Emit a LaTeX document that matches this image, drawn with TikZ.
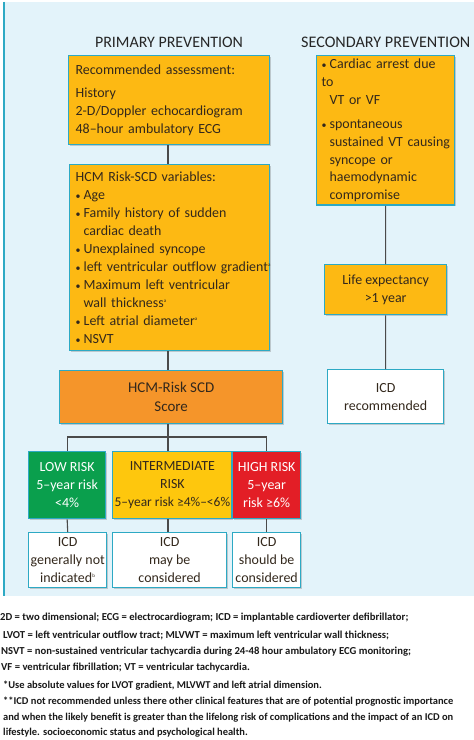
\documentclass[tikz,border=0pt]{standalone}
\usepackage{fontspec}
\setmainfont{Carlito}
\usetikzlibrary{shadows}
\definecolor{bg}{HTML}{E3F3FA}
\definecolor{edge}{HTML}{2DA9C4}
\definecolor{yel}{HTML}{FDB913}
\definecolor{yel2}{HTML}{FEC70D}
\definecolor{org}{HTML}{F5952A}
\definecolor{grn}{HTML}{0A9F4D}
\definecolor{rd}{HTML}{E31E26}
\definecolor{ink}{HTML}{33281C}
\definecolor{conn}{HTML}{4A4A4A}
\newcommand{\myb}{\makebox[8bp][l]{\fontsize{10}{10}\selectfont\textbullet}}
\newcommand{\myi}{\hspace*{8bp}}
\hyphenpenalty=10000
\exhyphenpenalty=10000
\begin{document}
\begin{tikzpicture}[x=1bp,y=-1bp,
  box/.style={draw=edge, line width=1.3bp, anchor=north west, inner xsep=6bp, inner ysep=3bp,
    font=\fontsize{14}{18}\selectfont, text=ink, align=center,
    drop shadow={shadow xshift=1.3bp, shadow yshift=-1.3bp, opacity=0.3, fill=black!60}},
  ybox/.style={box, fill=yel},
  wbox/.style={box, fill=white},
  conn/.style={draw=conn, line width=1.1bp},
  title/.style={font=\fontsize{16}{18}\selectfont, text=black!85},
  foot/.style={anchor=west, inner sep=0pt, font=\fontsize{10.7}{13}\selectfont\bfseries, text=black!90},
  foots/.style={foot, font=\fontsize{10.5}{12}\selectfont\bfseries}
]
\useasboundingbox (0,0) rectangle (474,740);
\fill[white] (0,0) rectangle (474,740);
\fill[bg] (3,2) rectangle (474,596);
\draw[edge, line width=1.5bp] (4,2) -- (4,596);

\node[title] (tp) at (169,42) {PRIMARY PREVENTION};
\node[title, anchor=west, inner sep=0pt, font=\fontsize{16.2}{18}\selectfont] (ts) at (301,42) {SECONDARY PREVENTION};

% primary
\node[ybox, minimum width=201bp, minimum height=89bp, text width=187bp, align=left, inner xsep=7bp] (b1) at (68,55)
  {Recommended assessment:\\[5bp]History\\2-D/Doppler echocardiogram\\48–hour ambulatory ECG};
\node[ybox, minimum width=200bp, minimum height=186bp, text width=188bp, align=left, inner xsep=6bp] (b2) at (69,164)
  {HCM Risk-SCD variables:\\
   \myb Age\\
   \myb Family history of sudden\\
   \myi cardiac death\\
   \myb Unexplained syncope\\
   \mbox{\myb left ventricular outflow gradient\textsuperscript{\tiny a}}\\
   \myb Maximum left ventricular\\
   \myi wall thickness\textsuperscript{\tiny a}\\
   \myb Left atrial diameter\textsuperscript{\tiny a}\\
   \myb NSVT};
\node[box, fill=org, minimum width=223bp, minimum height=53bp, font=\fontsize{15}{19}\selectfont] (sc) at (59,370)
  {HCM-Risk SCD\\Score};

\node[box, fill=grn, text=white, minimum width=77bp, minimum height=67bp, inner xsep=2bp] (lo) at (28,451)
  {LOW RISK\\5–year risk\\<4\%};
\node[box, fill=yel2, minimum width=114bp, minimum height=67bp, inner xsep=2bp] (im) at (112,451)
  {INTERMEDIATE\\RISK\\{\fontsize{13.5}{18}\selectfont 5–year risk ≥4\%–<6\%}};
\node[box, fill=rd, text=white, minimum width=68bp, minimum height=67bp, inner xsep=2bp] (hi) at (232,451)
  {HIGH RISK\\5–year\\risk ≥6\%};

\node[wbox, minimum width=77bp, minimum height=55bp, inner xsep=2bp, inner ysep=1bp] (ilo) at (28,532)
  {ICD\\generally not\\indicated\textsuperscript{\tiny b}};
\node[wbox, minimum width=114bp, minimum height=55bp, inner xsep=2bp, inner ysep=1bp] (iim) at (112,532)
  {ICD\\may be\\considered};
\node[wbox, minimum width=68bp, minimum height=55bp, inner xsep=2bp, inner ysep=1bp] (ihi) at (232,532)
  {ICD\\should be\\considered};

% secondary
\node[ybox, minimum width=138bp, minimum height=147bp, text width=128bp, align=left, inner xsep=5bp] (s1) at (316,55)
  {\myb Cardiac arrest due to\\
   \myi VT or VF\\[6bp]
   \myb spontaneous\\
   \mbox{\myi sustained VT causing}\\
   \myi syncope or\\
   \myi haemodynamic\\
   \myi compromise};
\node[ybox, minimum width=122bp, minimum height=50bp] (le) at (324,264)
  {Life expectancy\\>1 year};
\node[wbox, minimum width=116bp, minimum height=54bp] (ir) at (327,369)
  {ICD\\recommended};

% connectors
\coordinate (cx) at (168,0);
\coordinate (jn) at (168,437);
\draw[conn] (b1.south -| cx) -- (b2.north -| cx);
\draw[conn] (b2.south -| cx) -- (sc.north -| cx);
\draw[conn] (sc.south -| cx) -- (jn);
\draw[conn] (lo.north) |- (jn) -| (hi.north);
\draw[conn] (jn) -- (im.north -| jn);
\draw[conn] (lo.south) -- (ilo.north);
\draw[conn] (im.south -| jn) -- (iim.north -| jn);
\draw[conn] (hi.south) -- (ihi.north);
\draw[conn] (s1.south) -- (le.north);
\draw[conn] (le.south) -- (ir.north);

% footnotes
\node[foot] (f1) at (0,618) {2D = two dimensional; ECG = electrocardiogram; ICD = implantable cardioverter defibrillator;};
\node[foot] (f2) at (3,635) {LVOT = left ventricular outflow tract; MLVWT = maximum left ventricular wall thickness;};
\node[foot] (f3) at (1,652) {NSVT = non-sustained ventricular tachycardia during 24-48 hour ambulatory ECG monitoring;};
\node[foot] (f4) at (1,668) {VF = ventricular fibrillation; VT = ventricular tachycardia.};
\node[foots] (f5) at (3,686) {*Use absolute values for LVOT gradient, MLVWT and left atrial dimension.};
\node[foots] (f6) at (3,702) {**ICD not recommended unless there other clinical features that are of potential prognostic importance};
\node[foots] (f7) at (3,718) {and when the likely benefit is greater than the lifelong risk of complications and the impact of an ICD on};
\node[foots] (f8) at (3,733) {lifestyle. socioeconomic status and psychological health.};
\end{tikzpicture}
\end{document}
